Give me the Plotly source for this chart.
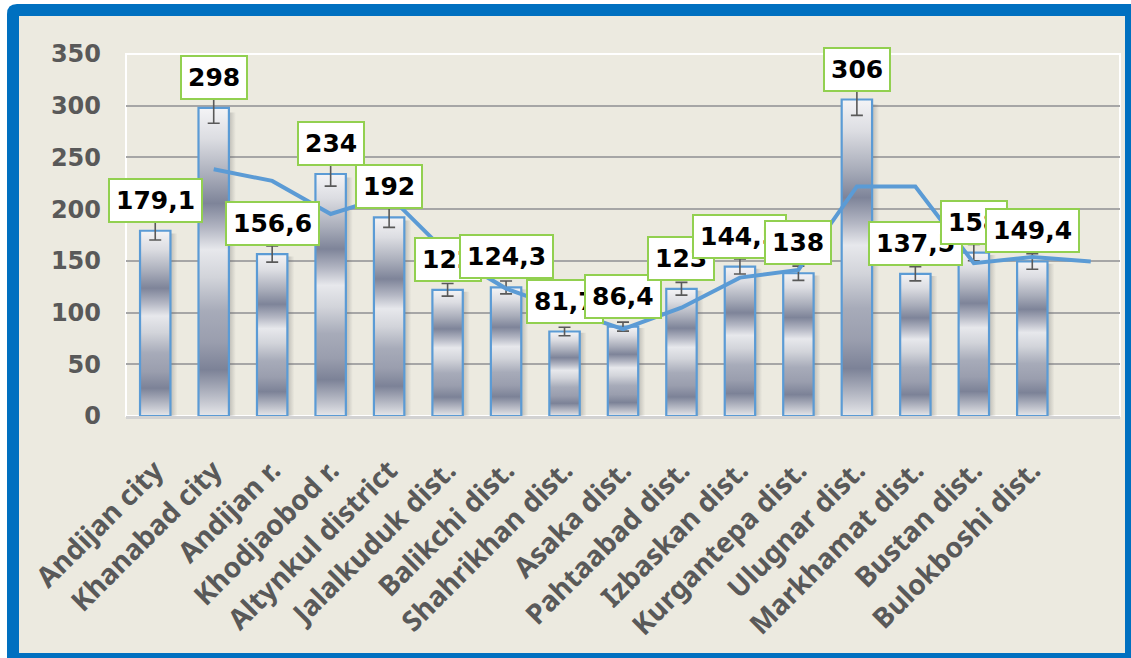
import plotly.graph_objects as go

# ---------------- data ----------------
categories = ["Andijan city", "Khanabad city", "Andijan r.", "Khodjaobod r.",
              "Altynkul district", "Jalalkuduk dist.", "Balikchi dist.",
              "Shahrikhan dist.", "Asaka dist.", "Pahtaabad dist.",
              "Izbaskan dist.", "Kurgantepa dist.", "Ulugnar dist.",
              "Markhamat dist.", "Bustan dist.", "Bulokboshi dist.", ""]
values = [179.1, 298, 156.6, 234, 192, 122, 124.3, 81.7, 86.4, 123,
          144.5, 138, 306, 137.5, 158, 149.4]
labels = ["179,1", "298", "156,6", "234", "192", "122", "124,3", "81,7",
          "86,4", "123", "144,5", "138", "306", "137,5", "158", "149,4"]
trend = [None, 238.6, 227.3, 195.3, 213, 157, 123.2, 103, 84, 104.7,
         133.8, 141.3, 222, 221.8, 147.8, 153.7, 149.4]
error_percent = 5
y_ticks = [0, 50, 100, 150, 200, 250, 300, 350]

# ---------------- layout geometry ----------------
W, H = 1131, 658
ML, MR, MT, MB = 126, 11, 54, 242
PW, PH = W - ML - MR, H - MT - MB


def px(xp):
    return (xp - ML) / PW


def py(yp):
    return (H - MB - yp) / PH


BEIGE = "#ECEAE0"
BLUE = "#0070C0"
BAR_EDGE = "#5B9BD5"
HALF = 0.26

metal = [[0.00, "#e6e7ea"], [0.04, "#c9cbd3"], [0.15, "#7c8297"],
         [0.24, "#9a9eae"], [0.34, "#a7abb9"], [0.45, "#d2d4da"],
         [0.54, "#e7e8ec"], [0.61, "#b3b6c3"], [0.69, "#7e8499"],
         [0.78, "#a9adba"], [0.90, "#dcdde2"], [1.00, "#f4f4f6"]]

fig = go.Figure()

# shadows + bars
for i, v in enumerate(values):
    fig.add_trace(go.Scatter(
        x=[i + HALF, i + HALF, i + HALF + 0.12, i + HALF + 0.12],
        y=[0, v * 0.985, v * 0.985, 0],
        mode="lines", line=dict(width=0), fill="toself",
        fillgradient=dict(type="horizontal",
                          colorscale=[[0, "rgba(90,90,90,0.32)"],
                                      [1, "rgba(90,90,90,0)"]]),
        hoverinfo="skip", showlegend=False))
for i, v in enumerate(values):
    fig.add_trace(go.Scatter(
        x=[i - HALF, i - HALF, i + HALF, i + HALF, i - HALF],
        y=[0, v, v, 0, 0],
        mode="lines", line=dict(color=BAR_EDGE, width=2.2), fill="toself",
        fillgradient=dict(type="vertical", colorscale=metal),
        hoverinfo="skip", showlegend=False))

# error bars
fig.add_trace(go.Scatter(
    x=list(range(len(values))), y=values, mode="markers",
    marker=dict(size=1, color="rgba(0,0,0,0)"),
    error_y=dict(type="percent", value=error_percent, color="#595959",
                 thickness=1.6, width=6),
    hoverinfo="skip", showlegend=False))

# trend line
fig.add_trace(go.Scatter(
    x=list(range(len(trend))), y=trend, mode="lines",
    line=dict(color=BAR_EDGE, width=4), connectgaps=False,
    hoverinfo="skip", showlegend=False))

# data labels
for i, (v, t) in enumerate(zip(values, labels)):
    fig.add_annotation(
        x=i, y=v, text=t, showarrow=False, xanchor="center", yanchor="bottom",
        yshift=8, bgcolor="white", bordercolor="#92D050", borderwidth=2,
        borderpad=6,
        font=dict(family="DejaVu Sans", size=25, color="black", weight="bold"))

# frame shapes
shapes = [
    dict(type="rect", xref="paper", yref="paper", layer="below",
         x0=px(-20), x1=px(W + 20), y0=py(H + 20), y1=py(-20),
         fillcolor="white", line=dict(width=0)),
    dict(type="path", xref="paper", yref="paper", layer="below",
         path=(f"M {px(7)},{py(H + 20)} L {px(7)},{py(14)} "
               f"Q {px(7)},{py(4)} {px(17)},{py(4)} "
               f"L {px(W + 20)},{py(4)} L {px(W + 20)},{py(H + 20)} Z"),
         fillcolor=BLUE, line=dict(width=0)),
    dict(type="rect", xref="paper", yref="paper", layer="below",
         x0=px(19), x1=px(1125), y0=py(653), y1=py(16),
         fillcolor=BEIGE, line=dict(width=0)),
    dict(type="rect", xref="paper", yref="paper", layer="below",
         x0=0, x1=1, y0=0, y1=1, fillcolor=BEIGE,
         line=dict(color="white", width=2)),
]

fig.update_layout(
    width=W, height=H,
    margin=dict(l=ML, r=MR, t=MT, b=MB, pad=0),
    paper_bgcolor="white", plot_bgcolor="rgba(0,0,0,0)",
    shapes=shapes, showlegend=False,
    xaxis=dict(range=[-0.5, len(categories) - 0.5],
               tickvals=list(range(len(categories))), ticktext=categories,
               tickangle=-45, showgrid=False, zeroline=False,
               showline=True, linecolor="#d2d2d2", linewidth=3,
               ticks="", ticklabelstandoff=24, automargin=False,
               tickfont=dict(family="Noto Sans", size=28, color="#595959",
                             weight="bold")),
    yaxis=dict(range=[0, 350], tickvals=y_ticks,
               showgrid=True, gridcolor="#a6a6a6", gridwidth=1.8,
               zeroline=False, showline=False, ticks="",
               ticklabelstandoff=24, automargin=False,
               tickfont=dict(family="DejaVu Sans", size=24, color="#595959",
                             weight="bold")),
)

fig.write_html("out.html")
